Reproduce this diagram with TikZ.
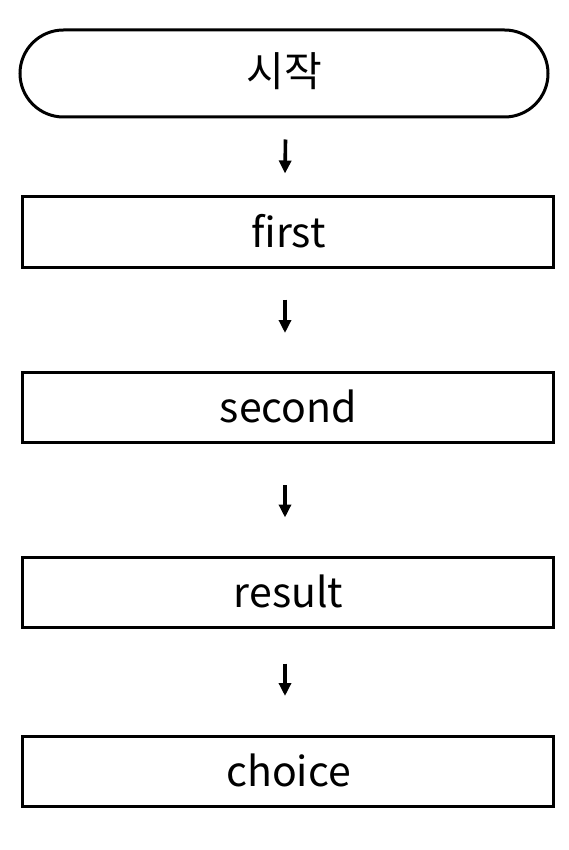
\documentclass[tikz,border=0pt]{standalone}
\usepackage{fontspec}
\setmainfont{Noto Sans CJK KR}
\usetikzlibrary{arrows.meta,shapes.misc}
\begin{document}
\begin{tikzpicture}[x=1pt,y=1pt,
  every node/.style={font=\fontsize{41}{48}\selectfont, text=black, inner sep=0pt},
  procbox/.style={draw=black, line width=3pt, minimum width=531pt, minimum height=70pt},
  termbox/.style={draw=black, line width=3pt, rounded rectangle, minimum width=528pt, minimum height=87pt},
  lbl/.style={yshift=-4pt},
  arr/.style={line width=3.6pt, -{Triangle[length=13pt,width=12pt]}}
]
\useasboundingbox (0,0) rectangle (568,-850);
\node[termbox] (start) at (284,-73.5) {};
\node[procbox] (first) at (287.5,-232) {};
\node[procbox] (second) at (287.5,-407.5) {};
\node[procbox] (result) at (287.5,-592) {};
\node[procbox] (choice) at (287.5,-771.5) {};
\node[anchor=base] (tstart) at ([yshift=-13pt]start.center) {시작};
\node[anchor=base] (tfirst) at ([xshift=1pt,yshift=-15pt]first.center) {first};
\node[anchor=base] (tsecond) at ([xshift=1pt,yshift=-15pt]second.center) {second};
\node[anchor=base] (tresult) at ([xshift=1pt,yshift=-15pt]result.center) {result};
\node[anchor=base] (tchoice) at ([xshift=1pt,yshift=-15pt]choice.center) {choice};
\draw[arr] ([xshift=1.5pt,yshift=-21pt]start.south) -- ([xshift=-2.5pt,yshift=22pt]first.north);
\draw[arr] ([xshift=-2.5pt,yshift=-31pt]first.south) -- ([xshift=-2.5pt,yshift=38pt]second.north);
\draw[arr] ([xshift=-2.5pt,yshift=-41pt]second.south) -- ([xshift=-2.5pt,yshift=38pt]result.north);
\draw[arr] ([xshift=-2.5pt,yshift=-35pt]result.south) -- ([xshift=-2.5pt,yshift=39pt]choice.north);
\end{tikzpicture}
\end{document}
